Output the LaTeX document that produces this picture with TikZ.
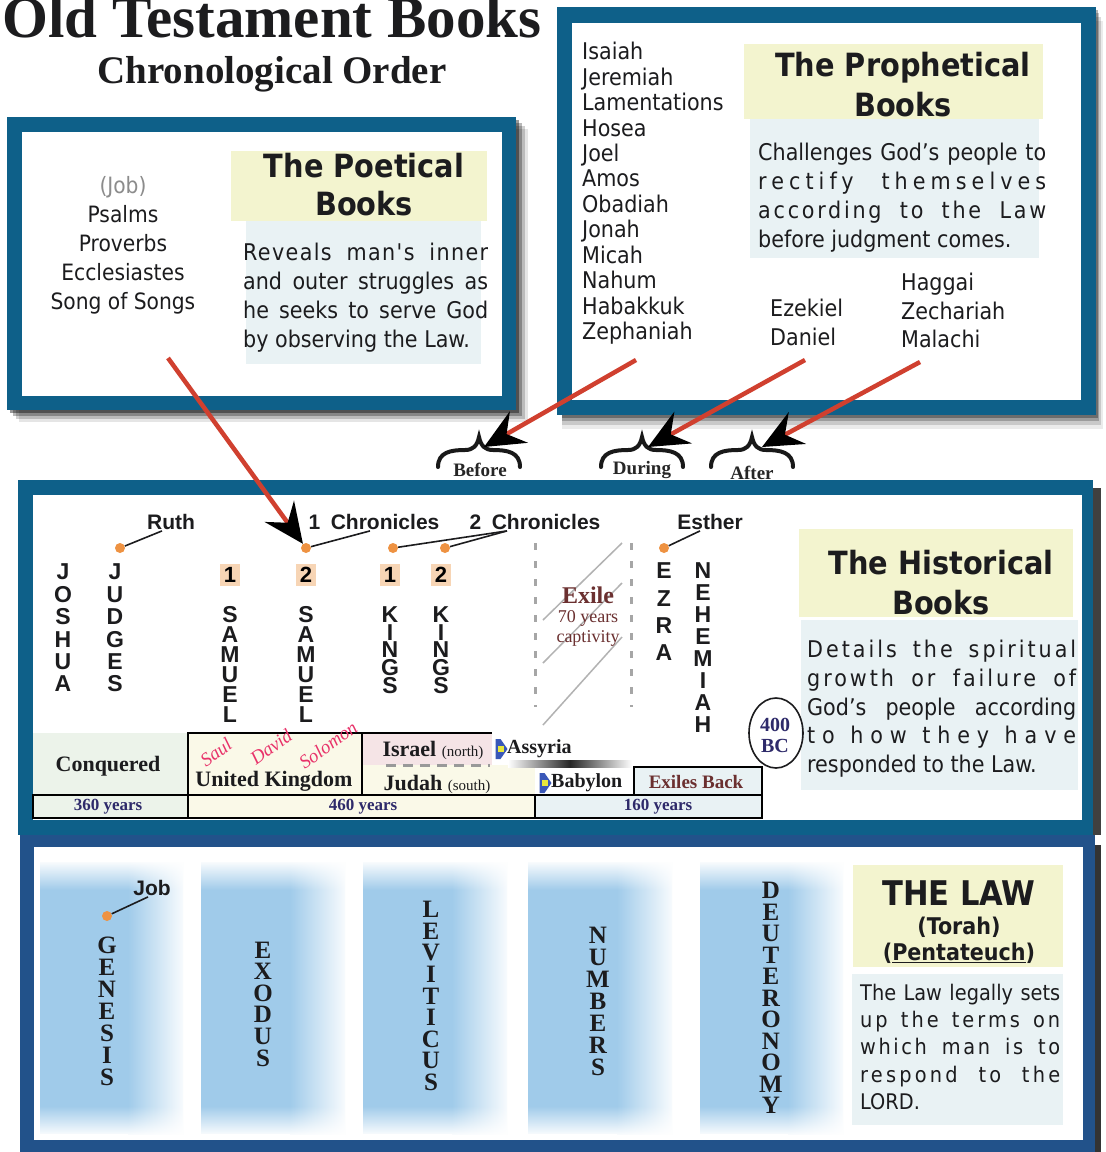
\documentclass[tikz,border=0pt]{standalone}
\usepackage{fontspec}
\setmainfont{Liberation Serif}
\newfontfamily\tahoma{DejaVu Sans Condensed}
\newfontfamily\arial{Liberation Sans}
\usepackage{xcolor}
\definecolor{frameblue}{RGB}{14,96,137}
\definecolor{lawblue}{RGB}{34,82,138}
\definecolor{headyellow}{RGB}{243,244,207}
\definecolor{descblue}{RGB}{233,242,244}
\definecolor{peach}{RGB}{247,213,181}
\definecolor{dotorange}{RGB}{238,146,66}
\definecolor{arrowred}{RGB}{208,64,47}
\definecolor{exilered}{RGB}{107,48,48}
\definecolor{navytext}{RGB}{46,42,106}
\definecolor{conqgreen}{RGB}{236,243,234}
\definecolor{ukyellow}{RGB}{250,249,232}
\definecolor{israelpink}{RGB}{245,228,230}
\definecolor{namepink}{RGB}{232,51,106}
\definecolor{barblue}{RGB}{160,203,234}
\definecolor{markblue}{RGB}{58,88,184}
\definecolor{markyellow}{RGB}{232,232,60}
\definecolor{inkdark}{RGB}{28,28,30}
\usetikzlibrary{arrows.meta,shapes.geometric,shapes.symbols,fadings}

\newcommand{\spread}[2]{\makebox[#1][s]{#2}}
\newcommand{\spreadls}[3]{\makebox[#1][s]{\addfontfeature{LetterSpace=#2}#3}}

\begin{document}
\begin{tikzpicture}[x=1pt,y=-1pt]
  \tikzstyle{booklist}=[font=\tahoma\fontsize{23}{25.45}\selectfont,text=inkdark,align=left,inner sep=0pt]
  \tikzstyle{headtext}=[font=\tahoma\bfseries\fontsize{32}{38}\selectfont,text=inkdark,align=center,inner sep=0pt]
  \tikzstyle{desctext}=[font=\tahoma\fontsize{23}{29}\selectfont,text=inkdark,align=left,inner sep=0pt,anchor=north west]
  \tikzstyle{histlabel}=[font=\arial\bfseries\fontsize{21}{21}\selectfont,text=inkdark,inner sep=1pt]
  \tikzstyle{vertword}=[font=\arial\bfseries\fontsize{23}{22.4}\selectfont,text=inkdark,align=center,inner sep=0pt]
  \tikzstyle{lawword}=[font=\bfseries\fontsize{25}{21.6}\selectfont,text=inkdark,align=center,inner sep=0pt]
  \tikzstyle{numbox}=[font=\arial\bfseries\fontsize{22}{22}\selectfont,fill=peach,minimum width=20pt,minimum height=22pt,inner sep=0pt]
  \tikzstyle{bookdot}=[circle,fill=dotorange,minimum size=10pt,inner sep=0pt]
  \tikzstyle{leader}=[line width=1.6pt,draw=inkdark]
  \tikzstyle{braceword}=[font=\bfseries\fontsize{19}{19}\selectfont,text=black!85,inner sep=0pt]
  \tikzstyle{timetext}=[font=\bfseries\fontsize{22}{22}\selectfont,text=inkdark,inner sep=0pt]
  \tikzstyle{yearstext}=[font=\bfseries\fontsize{17}{17}\selectfont,text=navytext,inner sep=0pt]
  \tikzstyle{kingname}=[font=\itshape\fontsize{19}{19}\selectfont,text=namepink,inner sep=0pt,rotate=36]
  \tikzstyle{marker}=[signal,signal to=east,signal pointer angle=110,fill=markblue,minimum width=12pt,minimum height=20pt,inner sep=0pt,
    path picture={\fill[markyellow] ([xshift=-4pt,yshift=-3pt]path picture bounding box.center) rectangle ++(6pt,6pt);}]
  \tikzstyle{redarrow}=[line width=4.5pt,draw=arrowred,-{Stealth[length=40pt,width=36pt,inset=14pt,color=black]}]

  \useasboundingbox (0,0) rectangle (1106,1152);
  \fill[white] (0,0) rectangle (1106,1152);

  \node[font=\bfseries\fontsize{59}{59}\selectfont,text=inkdark,anchor=base,inner sep=0pt] (title) at (272,37) {Old Testament Books};
  \node[font=\bfseries\fontsize{39}{39}\selectfont,text=inkdark,anchor=base,inner sep=0pt] (subtitle) at (272,83) {Chronological Order};

  \foreach \d/\op in {12/0.10,9/0.18,6/0.28,3/0.40}
    \fill[black,opacity=\op] (7+\d,117+\d) rectangle (516+\d,410+\d);
  \foreach \d/\op in {14/0.08,10/0.14,6/0.22,3/0.30}
    \fill[black,opacity=\op] (562,7+\d) rectangle (1096+\d/2,415+\d);

  \fill[frameblue] (7,117) rectangle (516,410);
  \fill[white] (22,132) rectangle (502,396);
  \fill[frameblue] (557,7) rectangle (1096,415);
  \fill[white] (572,23) rectangle (1081,400);

  \fill[headyellow] (231,151) rectangle (487,221);
  \fill[descblue] (246,221) rectangle (481,364);
  \node[headtext] (poethead) at (364,185) {The Poetical\\Books};
  \node[desctext] (poetdesc) at (243,243) {\spreadls{245pt}{6}{Reveals man's inner}\\\spread{245pt}{and outer struggles as}\\\spread{245pt}{he seeks to serve God}\\by observing the Law.};
  \node[booklist,align=center,anchor=north,font=\tahoma\fontsize{22.5}{29}\selectfont] (poetlist) at (123,176) {\textcolor{black!45}{(Job)}\\Psalms\\Proverbs\\Ecclesiastes\\Song of Songs};

  \fill[headyellow] (744,44) rectangle (1043,119);
  \fill[descblue] (750,119) rectangle (1039,258);
  \node[headtext,font=\tahoma\bfseries\fontsize{32}{40}\selectfont] (prophead) at (903,85) {The Prophetical\\Books};
  \node[desctext] (prophdesc) at (758,143) {\spread{288pt}{Challenges God’s people to}\\\spreadls{288pt}{22}{rectify themselves}\\\spreadls{288pt}{12}{according to the Law}\\before judgment comes.};
  \node[booklist,anchor=north west] (beforelist) at (582,42) {Isaiah\\Jeremiah\\Lamentations\\Hosea\\Joel\\Amos\\Obadiah\\Jonah\\Micah\\Nahum\\Habakkuk\\Zephaniah};
  \node[booklist,anchor=north west,font=\tahoma\fontsize{23}{28.5}\selectfont] (duringlist) at (770,299) {Ezekiel\\Daniel};
  \node[booklist,anchor=north west,font=\tahoma\fontsize{23}{28.5}\selectfont] (afterlist) at (901,273) {Haggai\\Zechariah\\Malachi};

  \foreach \c in {479,642,752}
    \draw[line width=4pt,line cap=round,black!90] (\c-41,467) .. controls (\c-41,452) and (\c-28,450) .. (\c-14,450)
      .. controls (\c-6,450) and (\c-2,446) .. (\c,437) .. controls (\c+2,446) and (\c+6,450) .. (\c+14,450)
      .. controls (\c+28,450) and (\c+41,452) .. (\c+41,467);
  \node[braceword] (before) at (480,470) {Before};
  \node[braceword] (during) at (642,470) {During};
  \node[braceword] (after) at (752,473) {After};
  \coordinate (beforetip) at (484,447);
  \coordinate (duringtip) at (648,447);
  \coordinate (aftertip) at (762,447);

  \fill[black!75] (1093,488) rectangle (1101,835);
  \fill[black!80] (1095,845) rectangle (1101,1152);
  \fill[frameblue] (18,480) rectangle (1093,835);
  \fill[white] (33,495) rectangle (1082,820);
  \fill[lawblue] (20,835) rectangle (1095,1152);
  \fill[white] (34,847) rectangle (1083,1140);

  \fill[headyellow] (799,529) rectangle (1073,617);
  \fill[descblue] (801,620) rectangle (1078,790);
  \node[headtext,font=\tahoma\bfseries\fontsize{32}{40}\selectfont] (histhead) at (941,583) {The Historical\\Books};
  \node[desctext,font=\tahoma\fontsize{23}{28.7}\selectfont] (histdesc) at (807,640) {\spreadls{269pt}{13}{Details the spiritual}\\\spreadls{269pt}{13}{growth or failure of}\\\spread{269pt}{God’s people according}\\\spreadls{269pt}{30}{to how they have}\\responded to the Law.};

  \node[histlabel] (ruth) at (171,522) {Ruth};
  \node[histlabel] (chrA) at (374,522) {1\enspace Chronicles};
  \node[histlabel] (chrB) at (535,522) {2\enspace Chronicles};
  \node[histlabel] (esther) at (710,522) {Esther};
  \node[bookdot] (judgesdot) at (120,548) {};
  \node[bookdot] (samdot) at (306,548) {};
  \node[bookdot] (kingAdot) at (393,548) {};
  \node[bookdot] (kingBdot) at (445,548) {};
  \node[bookdot] (ezradot) at (664,548) {};
  \draw[leader] (judgesdot) -- ([xshift=-9pt]ruth.south);
  \draw[leader] (samdot) -- ([xshift=-4pt]chrA.south);
  \draw[leader] (kingAdot) -- ([xshift=-28pt]chrB.south);
  \draw[leader] (kingBdot) -- ([xshift=-28pt]chrB.south);
  \draw[leader] (ezradot) -- ([xshift=-10pt]esther.south);

  \node[vertword] (joshua) at (63,628) {J\\O\\S\\H\\U\\A};
  \node[vertword] (judges) at (115,628) {J\\U\\D\\G\\E\\S};
  \node[numbox] (samAnum) at (230,575) {1};
  \node[numbox] (samBnum) at (306,575) {2};
  \node[numbox] (kingAnum) at (390,575) {1};
  \node[numbox] (kingBnum) at (441,575) {2};
  \node[vertword,font=\arial\bfseries\fontsize{23}{20}\selectfont] (samA) at (230,664) {S\\A\\M\\U\\E\\L};
  \node[vertword,font=\arial\bfseries\fontsize{23}{20}\selectfont] (samB) at (306,664) {S\\A\\M\\U\\E\\L};
  \node[vertword,font=\arial\bfseries\fontsize{23}{17.8}\selectfont] (kingA) at (390,650) {K\\I\\N\\G\\S};
  \node[vertword,font=\arial\bfseries\fontsize{23}{17.8}\selectfont] (kingB) at (441,650) {K\\I\\N\\G\\S};
  \node[vertword,font=\arial\bfseries\fontsize{23}{27.3}\selectfont] (ezra) at (664,612) {E\\Z\\R\\A};
  \node[vertword,font=\arial\bfseries\fontsize{23}{22}\selectfont] (nehemiah) at (703,648) {N\\E\\H\\E\\M\\I\\A\\H};

  \draw[black!35,line width=3pt,dash pattern=on 7pt off 11pt] (535,543) -- (535,707);
  \draw[black!35,line width=3pt,dash pattern=on 7pt off 11pt] (631,543) -- (631,707);
  \draw[black!30,line width=1.5pt] (543,620) -- (622,543);
  \draw[black!30,line width=1.5pt] (543,663) -- (622,583);
  \draw[black!30,line width=1.5pt] (543,725) -- (622,637);
  \node[font=\bfseries\fontsize{24}{24}\selectfont,text=exilered,inner sep=0pt] (exile) at (588,595) {Exile};
  \node[font=\fontsize{18}{18}\selectfont,text=exilered,inner sep=0pt] (seventy) at (588,618) {70 years};
  \node[font=\fontsize{18}{18}\selectfont,text=exilered,inner sep=0pt] (captivity) at (588,638) {captivity};

  \node[ellipse,draw=inkdark,line width=1.6pt,minimum width=54pt,minimum height=70pt,inner sep=0pt] (bcring) at (776,733) {};
  \node[font=\bfseries\fontsize{20}{21}\selectfont,text=navytext,align=center,inner sep=0pt] (bc) at (775,735) {400\\BC};

  \fill[conqgreen] (33,733) rectangle (188,795);
  \fill[israelpink] (362,733) rectangle (492,765);
  \fill[ukyellow] (362,765) rectangle (535,795);
  \draw[line width=2.4pt,fill=ukyellow] (188,733) rectangle (362,795);
  \draw[line width=2.4pt] (362,733) -- (492,733);
  \draw[line width=2.4pt] (362,733) -- (362,795);
  \draw[black!40,line width=3pt,dash pattern=on 10pt off 7pt] (386,765) -- (490,765);
  \shade[left color=white,right color=white,middle color=black!85] (508,760) rectangle (632,767);
  \draw[line width=2.4pt,fill=descblue] (634,767) rectangle (762,795);
  \draw[line width=2.4pt,fill=conqgreen] (33,795) rectangle (188,818);
  \draw[line width=2.4pt,fill=ukyellow] (188,795) rectangle (535,818);
  \draw[line width=2.4pt,fill=descblue] (535,795) rectangle (762,818);

  \node[timetext] (conquered) at (108,766) {Conquered};
  \node[timetext] (unitedkingdom) at (274,781) {United Kingdom};
  \node[kingname] (saul) at (216,752) {Saul};
  \node[kingname] (david) at (271,747) {David};
  \node[kingname] (solomon) at (328,745) {Solomon};
  \node[timetext] (israel) at (433,750) {Israel {\mdseries\fontsize{15}{15}\selectfont(north)}};
  \node[timetext] (judah) at (437,784) {Judah {\mdseries\fontsize{15}{15}\selectfont(south)}};
  \node[marker] (assyriamark) at (498,749) {};
  \node[timetext,anchor=west,font=\bfseries\fontsize{20}{20}\selectfont] (assyria) at (507,749) {Assyria};
  \node[marker] (babylonmark) at (542,783) {};
  \node[timetext,anchor=west,font=\bfseries\fontsize{20}{20}\selectfont] (babylon) at (551,783) {Babylon};
  \node[timetext,font=\bfseries\fontsize{19}{19}\selectfont,text=exilered] (exilesback) at (696,782) {Exiles Back};
  \node[yearstext] (yearsA) at (108,807) {360 years};
  \node[yearstext] (yearsB) at (363,807) {460 years};
  \node[yearstext] (yearsC) at (658,807) {160 years};

  \foreach \xl/\xr in {40/183,201/345,363/507,528/672,700/843}
  {
    \fill[barblue] (\xl,862) rectangle (\xr-55,1134);
    \shade[left color=barblue,right color=white!92!barblue] (\xr-55,862) rectangle (\xr,1134);
    \fill[white,path fading=south] (\xl,860) rectangle (\xr,890);
    \fill[white,path fading=north] (\xl,1106) rectangle (\xr,1136);
  }
  \node[lawword,font=\bfseries\fontsize{25}{22}\selectfont] (genesis) at (107,1011) {G\\E\\N\\E\\S\\I\\S};
  \node[lawword] (exodus) at (263,1004) {E\\X\\O\\D\\U\\S};
  \node[lawword] (leviticus) at (431,996) {L\\E\\V\\I\\T\\I\\C\\U\\S};
  \node[lawword,font=\bfseries\fontsize{25}{22}\selectfont] (numbers) at (598,1001) {N\\U\\M\\B\\E\\R\\S};
  \node[lawword,font=\bfseries\fontsize{25}{21.5}\selectfont] (deuteronomy) at (771,998) {D\\E\\U\\T\\E\\R\\O\\N\\O\\M\\Y};
  \node[histlabel] (job) at (152,888) {Job};
  \node[bookdot] (genesisdot) at (107,916) {};
  \draw[leader] (genesisdot) -- ([xshift=-4pt]job.south);

  \fill[headyellow] (853,865) rectangle (1063,967);
  \fill[descblue] (852,974) rectangle (1063,1125);
  \node[headtext,font=\tahoma\bfseries\fontsize{34}{34}\selectfont] (lawhead) at (959,893) {THE LAW};
  \node[headtext,font=\tahoma\bfseries\fontsize{23}{23}\selectfont] (torah) at (959,927) {(Torah)};
  \node[headtext,font=\tahoma\bfseries\fontsize{23}{23}\selectfont] (pentateuch) at (959,953) {(\underline{Pentateuch})};
  \node[desctext,font=\tahoma\fontsize{21.5}{27.2}\selectfont] (lawdesc) at (860,984) {\spread{200pt}{The Law legally sets}\\\spreadls{200pt}{14}{up the terms on}\\\spreadls{200pt}{12}{which man is to}\\\spreadls{200pt}{15}{respond to the}\\LORD.};

  \coordinate (poetfrom) at (168,358);
  \coordinate (beforefrom) at (636,360);
  \coordinate (duringfrom) at (805,360);
  \coordinate (afterfrom) at (920,362);
  \draw[redarrow] (poetfrom) -- (samdot);
  \draw[redarrow] (beforefrom) -- (beforetip);
  \draw[redarrow] (duringfrom) -- (duringtip);
  \draw[redarrow] (afterfrom) -- (aftertip);
\end{tikzpicture}
\end{document}
